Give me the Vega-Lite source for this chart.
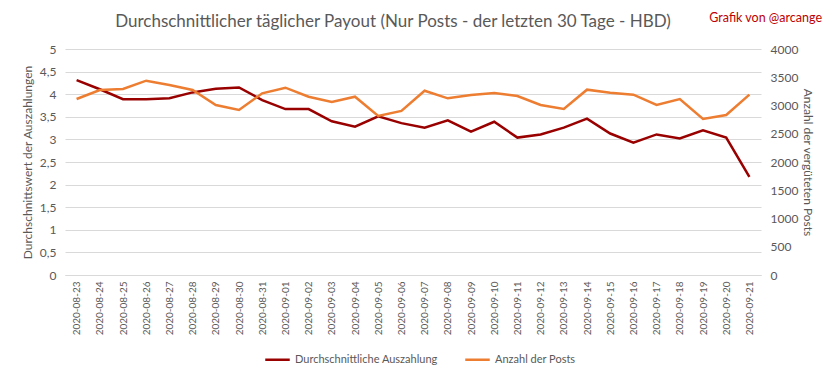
{
  "$schema": "https://vega.github.io/schema/vega-lite/v6.json",
  "autosize": "none",
  "width": 696,
  "height": 226,
  "padding": {"left": 65, "top": 49, "right": 72, "bottom": 104},
  "background": "white",
  "title": {
    "text": "Durchschnittlicher täglicher Payout (Nur Posts - der letzten 30 Tage - HBD)",
    "frame": "group",
    "anchor": "middle",
    "dx": -20,
    "offset": -19,
    "font": "Lato",
    "fontSize": 17,
    "fontWeight": "normal",
    "color": "#595959"
  },
  "data": {
    "values": [
      {"date": "2020-08-23", "payout": 4.31, "posts": 3115},
      {"date": "2020-08-24", "payout": 4.11, "posts": 3274},
      {"date": "2020-08-25", "payout": 3.89, "posts": 3292},
      {"date": "2020-08-26", "payout": 3.89, "posts": 3439},
      {"date": "2020-08-27", "payout": 3.91, "posts": 3363},
      {"date": "2020-08-28", "payout": 4.04, "posts": 3274},
      {"date": "2020-08-29", "payout": 4.12, "posts": 3009},
      {"date": "2020-08-30", "payout": 4.15, "posts": 2920},
      {"date": "2020-08-31", "payout": 3.87, "posts": 3216},
      {"date": "2020-09-01", "payout": 3.67, "posts": 3315},
      {"date": "2020-09-02", "payout": 3.67, "posts": 3156},
      {"date": "2020-09-03", "payout": 3.4, "posts": 3062},
      {"date": "2020-09-04", "payout": 3.28, "posts": 3156},
      {"date": "2020-09-05", "payout": 3.51, "posts": 2814},
      {"date": "2020-09-06", "payout": 3.36, "posts": 2905},
      {"date": "2020-09-07", "payout": 3.26, "posts": 3262},
      {"date": "2020-09-08", "payout": 3.42, "posts": 3127},
      {"date": "2020-09-09", "payout": 3.17, "posts": 3186},
      {"date": "2020-09-10", "payout": 3.39, "posts": 3221},
      {"date": "2020-09-11", "payout": 3.04, "posts": 3168},
      {"date": "2020-09-12", "payout": 3.11, "posts": 3009},
      {"date": "2020-09-13", "payout": 3.26, "posts": 2938},
      {"date": "2020-09-14", "payout": 3.46, "posts": 3280},
      {"date": "2020-09-15", "payout": 3.13, "posts": 3227},
      {"date": "2020-09-16", "payout": 2.93, "posts": 3192},
      {"date": "2020-09-17", "payout": 3.11, "posts": 3009},
      {"date": "2020-09-18", "payout": 3.02, "posts": 3115},
      {"date": "2020-09-19", "payout": 3.2, "posts": 2761},
      {"date": "2020-09-20", "payout": 3.04, "posts": 2832},
      {"date": "2020-09-21", "payout": 2.17, "posts": 3192}
    ]
  },
  "layer": [
    {
      "mark": {"type": "line", "strokeWidth": 2.5},
      "encoding": {
        "x": {
          "field": "date",
          "type": "ordinal",
          "title": null,
          "axis": {
            "labelAngle": -90,
            "labelFont": "Lato",
            "labelFontSize": 10,
            "labelColor": "#595959",
            "labelPadding": 6,
            "ticks": false,
            "domainColor": "#d9d9d9",
            "domainWidth": 1,
            "grid": false
          }
        },
        "y": {
          "field": "payout",
          "type": "quantitative",
          "scale": {"domain": [0, 5], "nice": false},
          "title": "Durchschnittswert der Auszahlungen",
          "axis": {
            "values": [0, 0.5, 1, 1.5, 2, 2.5, 3, 3.5, 4, 4.5, 5],
            "labelExpr": "replace(format(datum.value, '~g'), '.', ',')",
            "grid": true,
            "gridColor": "#d9d9d9",
            "domain": false,
            "ticks": false,
            "labelPadding": 9,
            "labelFont": "Lato",
            "labelFontSize": 12,
            "labelColor": "#595959",
            "titleFont": "Lato",
            "titleFontSize": 12,
            "titleFontWeight": "normal",
            "titleColor": "#595959",
            "titlePadding": 5
          }
        },
        "color": {"datum": "Durchschnittliche Auszahlung"}
      }
    },
    {
      "mark": {"type": "line", "strokeWidth": 2.5},
      "encoding": {
        "x": {"field": "date", "type": "ordinal"},
        "y": {
          "field": "posts",
          "type": "quantitative",
          "scale": {"domain": [0, 4000], "nice": false},
          "title": "Anzahl der vergüteten  Posts",
          "axis": {
            "orient": "right",
            "values": [0, 500, 1000, 1500, 2000, 2500, 3000, 3500, 4000],
            "format": "d",
            "grid": false,
            "domain": false,
            "ticks": false,
            "labelPadding": 9,
            "labelFont": "Lato",
            "labelFontSize": 12,
            "labelColor": "#595959",
            "titleFont": "Lato",
            "titleFontSize": 12,
            "titleFontWeight": "normal",
            "titleColor": "#595959",
            "titlePadding": 3
          }
        },
        "color": {"datum": "Anzahl der Posts"}
      }
    },
    {
      "data": {"values": [{"credit": "Grafik von @arcange"}]},
      "mark": {"type": "text", "align": "right", "baseline": "middle", "font": "Lato", "fontSize": 12.5, "fill": "#c00000"},
      "encoding": {
        "text": {"field": "credit"},
        "x": {"value": 757},
        "y": {"value": -31}
      }
    }
  ],
  "resolve": {"scale": {"y": "independent"}},
  "config": {
    "view": {"stroke": null},
    "scale": {"pointPadding": 0.5},
    "range": {"category": ["#990000", "#ed7d31"]},
    "legend": {
      "orient": "none",
      "legendX": 199,
      "legendY": 297,
      "direction": "horizontal",
      "title": null,
      "symbolType": "stroke",
      "symbolStrokeWidth": 2.5,
      "symbolSize": 600,
      "labelFont": "Lato",
      "labelFontSize": 11,
      "labelColor": "#595959",
      "columnPadding": 22
    }
  }
}
